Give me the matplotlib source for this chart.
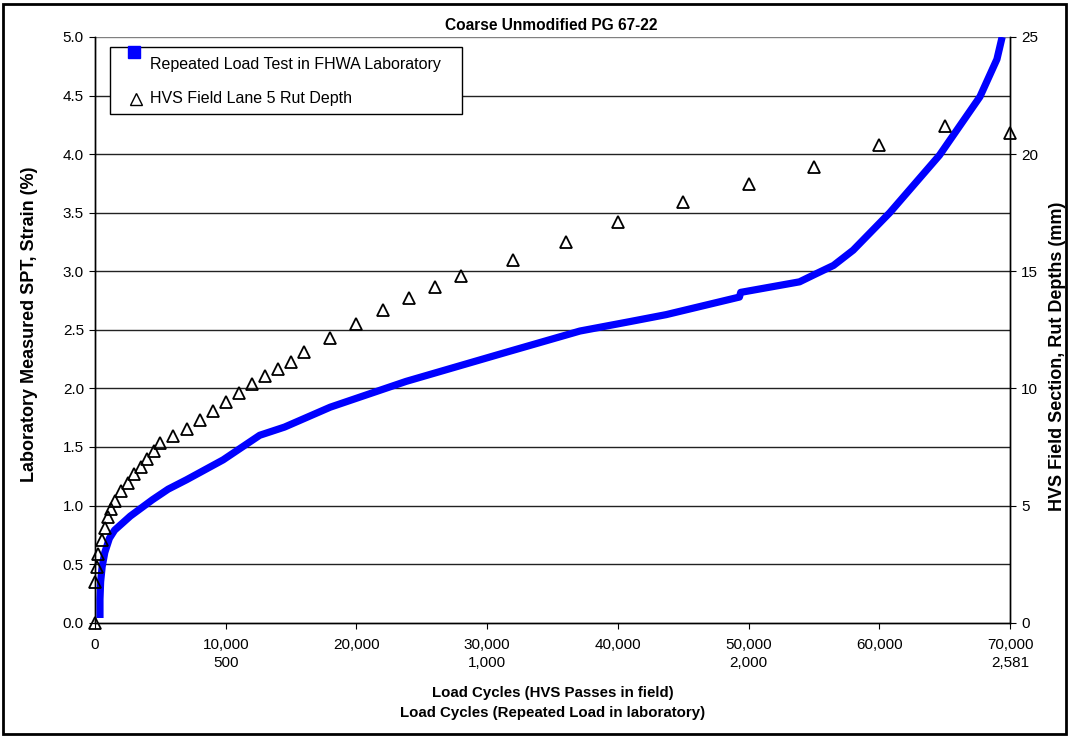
"""
Coarse Unmodified PG 67-22 — lab SPT strain vs HVS field rut depth
Writes out.png
"""

import matplotlib
matplotlib.use("Agg")
import matplotlib.pyplot as plt
from matplotlib.lines import Line2D
from matplotlib.patches import Rectangle
from matplotlib.ticker import FuncFormatter

# ── Data ──────────────────────────────────────────────────────────────────────
# Repeated load test in FHWA laboratory (left axis, strain %)
LAB_CYCLES = [380, 380, 430, 550, 750, 1100, 1500, 2700, 4400, 5600, 7000, 9800, 12600,
              14500, 18000, 23800, 31500, 37100, 40900, 43700, 49300,
              49400, 53900, 55000, 56500, 58000, 60800, 64600, 67700, 69000, 69400]
LAB_STRAIN = [0.04, 0.20, 0.35, 0.48, 0.60, 0.72, 0.79, 0.91, 1.05, 1.14, 1.22, 1.39, 1.60,
              1.67, 1.84, 2.06, 2.31, 2.49, 2.57, 2.63, 2.78,
              2.82, 2.91, 2.97, 3.05, 3.18, 3.50, 3.99, 4.49, 4.81, 5.00]

# HVS field lane 5 rut depth (right axis, mm)
HVS_PASSES = [0, 0, 150, 250, 500, 750, 1000, 1250, 1500, 2000, 2500, 3000, 3500, 4000,
              4500, 5000, 6000, 7000, 8000, 9000, 10000, 11000, 12000, 13000, 14000,
              15000, 16000, 18000, 20000, 22000, 24000, 26000, 28000, 32000, 36000,
              40000, 45000, 50000, 55000, 60000, 65000, 70000]
HVS_RUT_MM = [0.00, 1.72, 2.39, 2.93, 3.53, 4.04, 4.50, 4.84, 5.20, 5.64, 5.98, 6.35, 6.66, 7.00,
              7.34, 7.66, 7.97, 8.28, 8.65, 9.05, 9.42, 9.82, 10.19, 10.55, 10.83,
              11.12, 11.57, 12.17, 12.74, 13.35, 13.88, 14.32, 14.80, 15.50, 16.27,
              17.11, 17.95, 18.73, 19.45, 20.40, 21.21, 20.90]

X_TICKS       = [0, 10000, 20000, 30000, 40000, 50000, 60000, 70000]
X_TICK_LAB2   = ["", "500", "", "1,000", "", "2,000", "", "2,581"]
Y_LEFT_TICKS  = [0.0, 0.5, 1.0, 1.5, 2.0, 2.5, 3.0, 3.5, 4.0, 4.5, 5.0]
Y_RIGHT_TICKS = [0, 5, 10, 15, 20, 25]

TITLE   = "Coarse Unmodified PG 67-22"
XLABEL  = "Load Cycles (HVS Passes in field)\nLoad Cycles (Repeated Load in laboratory)"
YLABEL  = "Laboratory Measured SPT, Strain (%)"
Y2LABEL = "HVS Field Section, Rut Depths (mm)"
LEGEND  = ["Repeated Load Test in FHWA Laboratory", "HVS Field Lane 5 Rut Depth"]

BLUE = "#0000FF"
W, H = 1069, 736

plt.rcParams.update({
    "font.family":      ["Liberation Sans", "DejaVu Sans"],
    "font.size":        11,
    "axes.linewidth":   1.0,
    "xtick.major.size": 4,
    "ytick.major.size": 4,
})


def fx(px):
    return px / W


def fy(py):
    return 1 - py / H


# ── Figure ────────────────────────────────────────────────────────────────────
fig = plt.figure(figsize=(W / 100, H / 100), dpi=100)
ax = fig.add_axes([fx(95), fy(622.7), fx(1010) - fx(95), fy(37) - fy(622.7)])
ax2 = ax.twinx()

ax.set_xlim(0, 70000)
ax.set_ylim(0, 5)
ax2.set_ylim(0, 25)

for y in Y_LEFT_TICKS[1:]:
    ax.axhline(y, color="#222222" if y < 5 else "#808080", linewidth=1.0, zorder=1)

ax.plot(LAB_CYCLES, LAB_STRAIN, color=BLUE, linewidth=5.2, solid_capstyle="butt",
        solid_joinstyle="round", zorder=3)
ax2.plot(HVS_PASSES, HVS_RUT_MM, linestyle="none", marker="^", markersize=8.5,
         markerfacecolor="none", markeredgecolor="black", markeredgewidth=1.3,
         clip_on=False, zorder=4)

# axes styling
for a in (ax, ax2):
    a.spines["top"].set_visible(False)
ax.set_xticks(X_TICKS)
ax.set_xticklabels([f"{v:,}\n{s}" for v, s in zip(X_TICKS, X_TICK_LAB2)], fontsize=11,
                   linespacing=1.4)
ax.set_yticks(Y_LEFT_TICKS)
ax.yaxis.set_major_formatter(FuncFormatter(lambda v, p: f"{v:.1f}"))
ax.tick_params(axis="y", labelsize=11, pad=4)
ax.tick_params(axis="x", pad=7)
ax2.set_yticks(Y_RIGHT_TICKS)
ax2.tick_params(axis="y", labelsize=11, pad=4)

ax.set_xlabel(XLABEL, fontsize=10.8, fontweight="bold", labelpad=11, linespacing=1.6)
fig.text(fx(30), fy(324), YLABEL, fontsize=13, fontweight="bold", rotation=90,
         ha="center", va="center")
fig.text(fx(1057), fy(356), Y2LABEL, fontsize=13, fontweight="bold", rotation=90,
         ha="center", va="center")
fig.text(fx(551), fy(26), TITLE, fontsize=11.2, fontweight="bold", ha="center", va="center")

# legend, drawn by hand to match the Excel layout
fig.patches.append(Rectangle((fx(110), fy(114)), fx(462) - fx(110), fy(47) - fy(114),
                             transform=fig.transFigure, facecolor="white",
                             edgecolor="black", linewidth=1.0, zorder=5))
fig.lines.append(Line2D([fx(134)], [fy(52)], transform=fig.transFigure, linestyle="none",
                        marker="s", markersize=9, color=BLUE, zorder=6))
fig.lines.append(Line2D([fx(135.5)], [fy(99)], transform=fig.transFigure, linestyle="none",
                        marker="^", markersize=8.5, markerfacecolor="none",
                        markeredgecolor="black", markeredgewidth=1.0, zorder=6))
fig.text(fx(150), fy(65), LEGEND[0], fontsize=11.5, ha="left", va="center", zorder=6)
fig.text(fx(150), fy(99), LEGEND[1], fontsize=11.5, ha="left", va="center", zorder=6)

# outer frame around the whole chart
fig.patches.append(Rectangle((0.003, 0.003), 0.994, 0.992, transform=fig.transFigure,
                             fill=False, edgecolor="black", linewidth=2.0))

fig.savefig("out.png", dpi=100, facecolor="white")
